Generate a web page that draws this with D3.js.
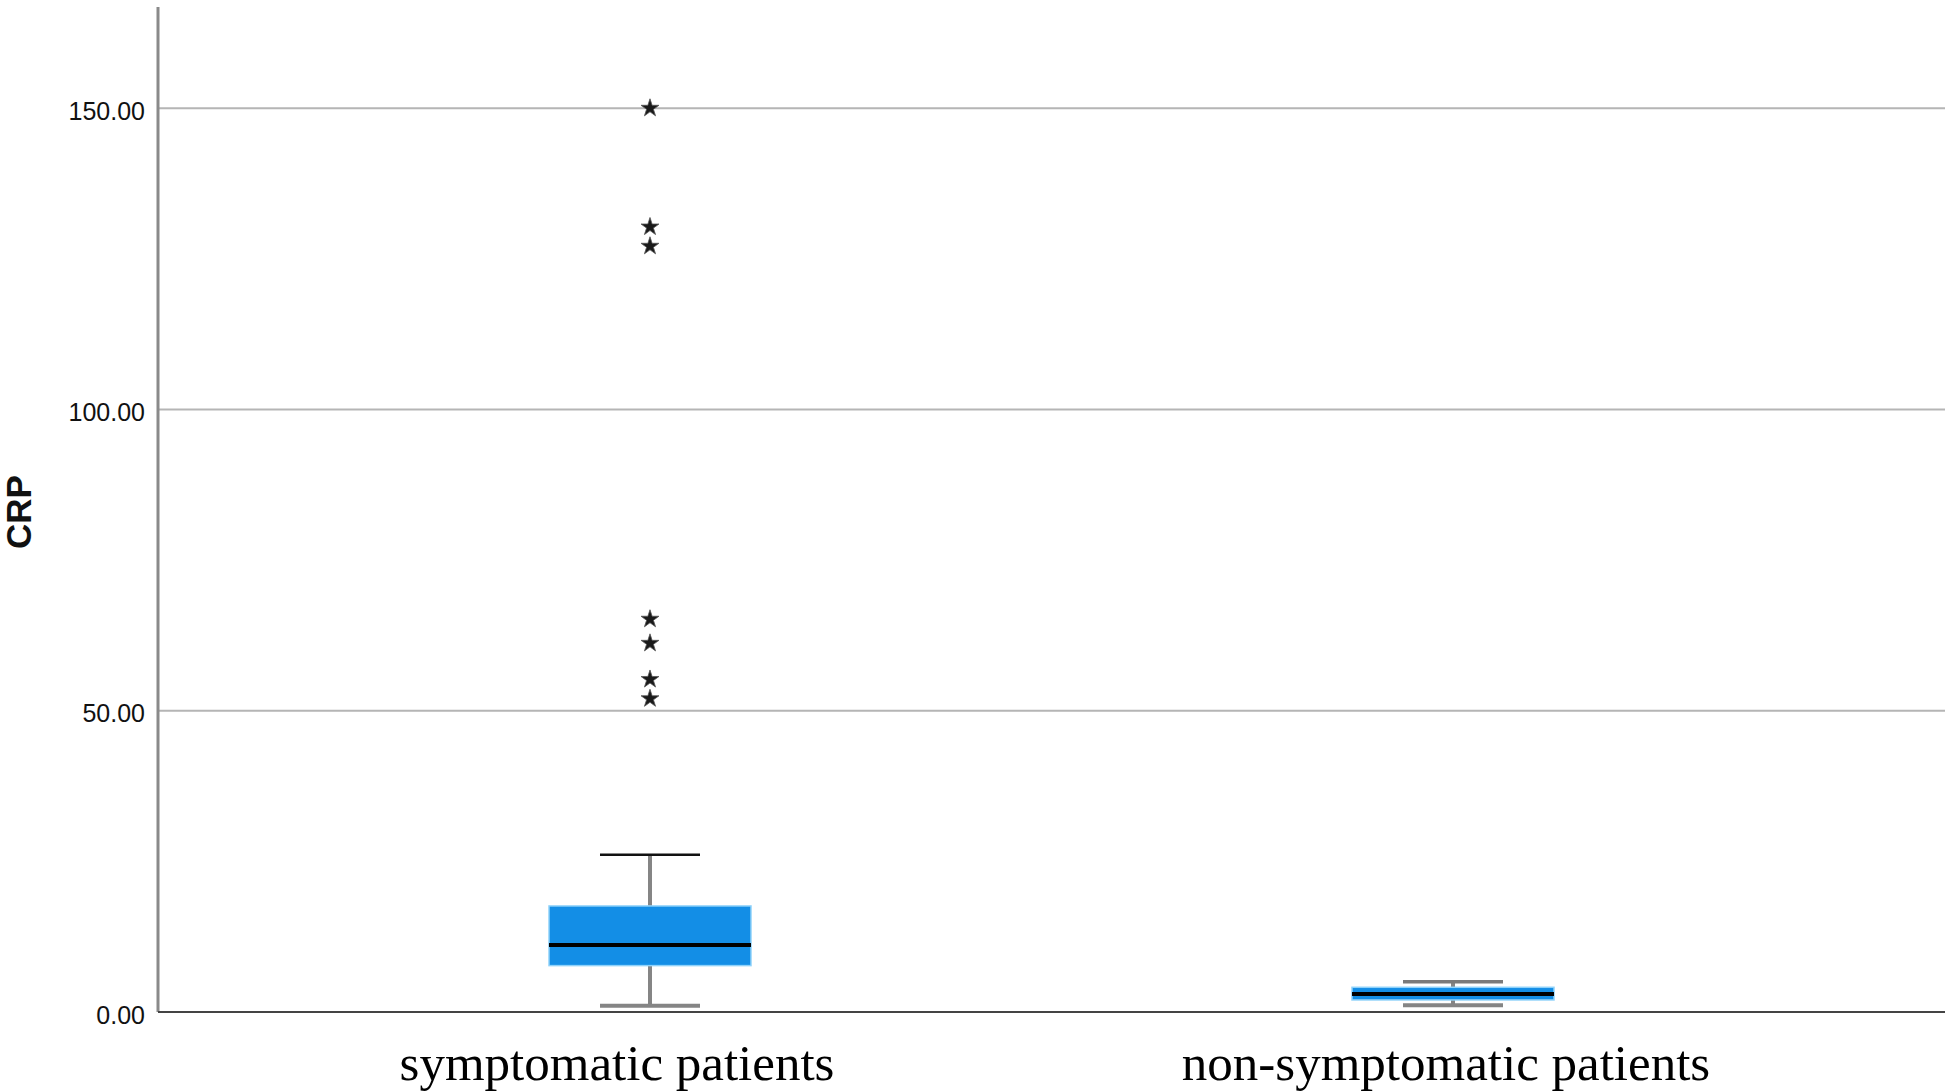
<!DOCTYPE html>
<html>
<head>
<meta charset="utf-8">
<script src="https://cdn.jsdelivr.net/npm/d3@7"></script>
<style>
  html, body { margin: 0; padding: 0; background: #fff; }
  svg { display: block; }
</style>
</head>
<body>
<svg id="chart" width="1951" height="1092"></svg>
<script>
// ---- data ----
const categories = ["symptomatic patients", "non-symptomatic patients"];
const q1Values = [7.7, 2.0];
const medianValues = [11.1, 3.0];
const q3Values = [17.6, 4.1];
const whiskerLow = [1.05, 1.1];
const whiskerHigh = [26.1, 5.0];
const outliersSymptomatic = [150.0, 130.3, 127.1, 65.2, 61.2, 55.2, 52.0];
const outliersNonSymptomatic = [];
const yTicks = [0, 50, 100, 150];
const yLabel = "CRP";

(function () {
// ---- layout ----
const plotLeft = 158, plotRight = 1945, plotTop = 7, plotBottom = 1012;
const labelShift = [-33, -7];

const svg = d3.select("#chart");

const y = d3.scaleLinear().domain([0, 166.8]).range([plotBottom, plotTop]);
const x = d3.scalePoint().domain(categories).range([plotLeft, plotRight]).padding(0.6127);

const boxW = 202, capW = 100;

// gridlines
svg.append("g").selectAll("line").data(yTicks.filter(d => d > 0)).join("line")
  .attr("x1", plotLeft).attr("x2", plotRight)
  .attr("y1", d => y(d)).attr("y2", d => y(d))
  .attr("stroke", "#b5b5b5").attr("stroke-width", 2);

// y axis
const yAxis = d3.axisLeft(y).tickValues(yTicks).tickSize(0).tickPadding(13).tickFormat(d3.format(".2f"));
const ga = svg.append("g").attr("transform", `translate(${plotLeft},0)`).call(yAxis);
ga.select(".domain").remove();
ga.selectAll("text")
  .attr("font-family", "'Liberation Sans', Arial, sans-serif")
  .attr("font-size", 25).attr("fill", "#111").attr("dy", "0.44em");
svg.append("line").attr("x1", plotLeft).attr("x2", plotLeft).attr("y1", plotTop).attr("y2", plotBottom)
  .attr("stroke", "#8a8a8a").attr("stroke-width", 3);

// y label
svg.append("text")
  .attr("transform", `translate(31,512) rotate(-90)`)
  .attr("text-anchor", "middle")
  .attr("font-family", "'Liberation Sans', Arial, sans-serif")
  .attr("font-weight", "bold").attr("font-size", 35).attr("fill", "#111")
  .text(yLabel);

// boxes
const boxes = categories.map((c, i) => ({
  c, q1: q1Values[i], med: medianValues[i], q3: q3Values[i],
  lo: whiskerLow[i], hi: whiskerHigh[i]
}));

const gb = svg.append("g");
boxes.forEach(b => {
  const cx = x(b.c);
  gb.append("line").attr("x1", cx).attr("x2", cx).attr("y1", y(b.hi)).attr("y2", y(b.q3))
    .attr("stroke", "#858585").attr("stroke-width", 4);
  gb.append("line").attr("x1", cx).attr("x2", cx).attr("y1", y(b.q1)).attr("y2", y(b.lo))
    .attr("stroke", "#858585").attr("stroke-width", 4);
  gb.append("line").attr("x1", cx - capW/2).attr("x2", cx + capW/2).attr("y1", y(b.hi)).attr("y2", y(b.hi))
    .attr("stroke", b.hi > 10 ? "#111" : "#7a7a7a").attr("stroke-width", b.hi > 10 ? 2.5 : 3.5);
  gb.append("line").attr("x1", cx - capW/2).attr("x2", cx + capW/2).attr("y1", y(b.lo)).attr("y2", y(b.lo))
    .attr("stroke", "#858585").attr("stroke-width", 4);
  gb.append("rect").attr("x", cx - boxW/2).attr("width", boxW)
    .attr("y", y(b.q3)).attr("height", y(b.q1) - y(b.q3))
    .attr("fill", "#138ee6").attr("stroke", "#8fd2fa").attr("stroke-width", 1.5);
  gb.append("line").attr("x1", cx - boxW/2).attr("x2", cx + boxW/2).attr("y1", y(b.med)).attr("y2", y(b.med))
    .attr("stroke", "#000").attr("stroke-width", 4);
});

// outliers
const outs = [
  ...outliersSymptomatic.map(v => ({ c: categories[0], v })),
  ...outliersNonSymptomatic.map(v => ({ c: categories[1], v }))
];
svg.append("g").selectAll("path").data(outs).join("path")
  .attr("transform", d => `translate(${x(d.c)},${y(d.v)})`)
  .attr("d", d3.symbol(d3.symbolStar, 100))
  .attr("fill", "#1a1a1a").attr("stroke", "#555").attr("stroke-width", 0.8);

// x axis line
svg.append("line").attr("x1", plotLeft).attr("x2", plotRight).attr("y1", plotBottom).attr("y2", plotBottom)
  .attr("stroke", "#444").attr("stroke-width", 2);

// category labels
svg.append("g").selectAll("text").data(categories).join("text")
  .attr("x", (d, i) => x(d) + labelShift[i])
  .attr("y", 1080)
  .attr("text-anchor", "middle")
  .attr("font-family", "'Liberation Serif', 'Times New Roman', serif")
  .attr("font-size", 51).attr("fill", "#000")
  .text(d => d);
})();
</script>
</body>
</html>
